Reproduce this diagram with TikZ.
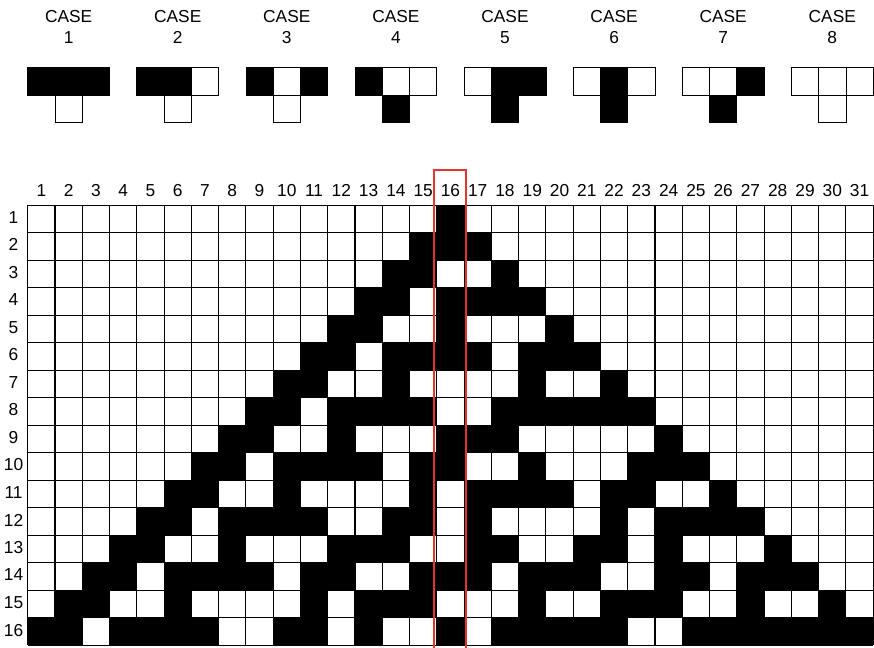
\documentclass[tikz,border=0pt]{standalone}
\usepackage{fontspec}
\setmainfont{Liberation Sans}
\usepackage{tikz}
\definecolor{boxred}{RGB}{232,52,40}

\begin{document}
\begin{tikzpicture}[
    x=20.45pt, y=20.625pt,
    gridline/.style={draw=black, line width=0.8pt},
    casecell/.style={draw=black, line width=0.6pt},
    numlabel/.style={font=\fontsize{13}{15}\selectfont, inner sep=0pt},
    highlight/.style={draw=boxred, line width=1.5pt},
]
\useasboundingbox (-1.016,-16.07) rectangle (31.03,7.455);

% Cases (left / centre / right -> new cell)
\foreach \k/\l/\m/\r/\n in {1/black/black/black/white, 2/black/black/white/white,
    3/black/white/black/white, 4/black/white/white/black, 5/white/black/black/black,
    6/white/black/white/black, 7/white/white/black/black, 8/white/white/white/white} {
    \pgfmathsetmacro{\xa}{4*\k-4}
    \node[numlabel] (case\k) at (\xa+1.5,6.86) {CASE};
    \node[numlabel] (casenum\k) at (\xa+1.5,6.1) {\k};
    \draw[casecell, fill=\l] (\xa,5) rectangle (\xa+1,4);
    \draw[casecell, fill=\m] (\xa+1,5) rectangle (\xa+2,4);
    \draw[casecell, fill=\r] (\xa+2,5) rectangle (\xa+3,4);
    \draw[casecell, fill=\n] (\xa+1,4) rectangle (\xa+2,3);
}

% Black cells of each generation
\foreach \row/\cells in {1/{16}, 2/{15,16,17}, 3/{14,15,18}, 4/{13,14,16,17,18,19},
    5/{12,13,16,20}, 6/{11,12,14,15,16,17,19,20,21}, 7/{10,11,14,19,22},
    8/{9,10,12,13,14,15,18,19,20,21,22,23}, 9/{8,9,12,16,17,18,24},
    10/{7,8,10,11,12,13,15,16,19,23,24,25},
    11/{6,7,10,15,17,18,19,20,22,23,26},
    12/{5,6,8,9,10,11,14,15,17,22,24,25,26,27},
    13/{4,5,8,12,13,14,17,18,21,22,24,28},
    14/{3,4,6,7,8,9,11,12,15,16,17,19,20,21,24,25,27,28,29},
    15/{2,3,6,11,13,14,15,19,22,23,24,27,30},
    16/{1,2,4,5,6,7,10,11,13,16,18,19,20,21,22,25,26,27,28,29,30,31}} {
    \foreach \c in \cells {
        \fill[black] (\c-1,-\row+1) rectangle (\c,-\row);
    }
}

% Grid
\foreach \i in {0,...,31} {
    \draw[gridline] (\i,0) -- (\i,-16);
}
\foreach \j in {0,...,16} {
    \draw[gridline] (0,-\j) -- (31,-\j);
}

% Labels
\foreach \c in {1,...,31} {
    \node[numlabel] (col\c) at (\c-0.5,0.54) {\c};
}
\foreach \r in {1,...,16} {
    \node[numlabel] (row\r) at (-0.52,-\r+0.55) {\r};
}

% Centre column
\draw[highlight] (14.9,1.27) rectangle (16.06,-16.5);

\end{tikzpicture}
\end{document}
